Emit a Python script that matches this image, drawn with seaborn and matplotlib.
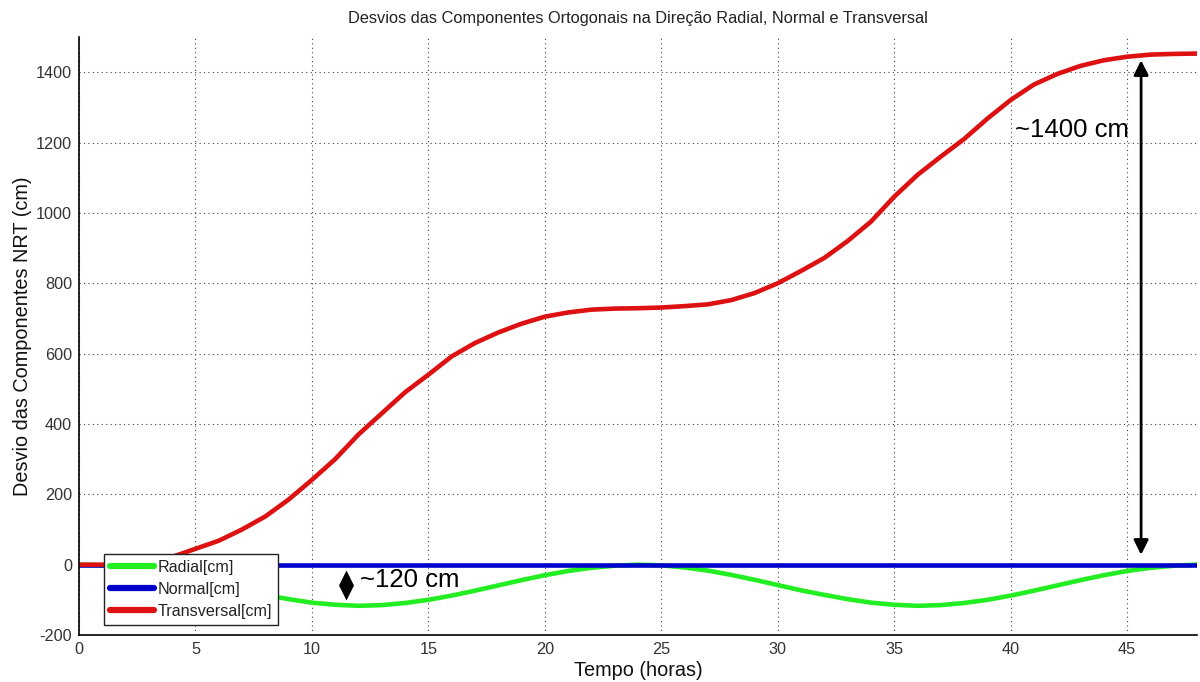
import numpy as np
import pandas as pd
import matplotlib
matplotlib.use("Agg")
import matplotlib.pyplot as plt
import seaborn as sns

# Time samples (hours)
tempo = list(range(0, 49))

# Deviation of each orthogonal component (cm)
radial = [0, -2, -8, -17, -29, -43, -58, -73, -86, -98, -108, -114, -117,
          -115, -109, -100, -88, -74, -59, -44, -30, -18, -9, -3, 0,
          -2, -8, -17, -29, -43, -58, -73, -86, -98, -108, -114, -117,
          -115, -109, -100, -88, -74, -59, -44, -30, -18, -9, -3, 0]
normal = [0] * 49
transversal = [0, 0, 2, 8, 22, 45, 68, 100, 137, 185, 241, 300, 370,
               430, 490, 540, 592, 630, 660, 685, 705, 717, 725, 728, 729,
               731, 735, 740, 752, 772, 800, 835, 872, 920, 975, 1046, 1108,
               1160, 1210, 1268, 1321, 1365, 1395, 1418, 1434, 1444, 1450, 1452, 1453]

series_names = ["Radial[cm]", "Normal[cm]", "Transversal[cm]"]
series_colors = ["#22ee22", "#0000cc", "#dd1111"]

# Amplitude annotations
amp_transversal = "~1400 cm"
amp_radial = "~120 cm"

df = pd.concat([
    pd.DataFrame({"Tempo": tempo, "Desvio": vals, "Componente": name})
    for name, vals in zip(series_names, [radial, normal, transversal])
])

sns.set_theme(style="white")
plt.rcParams["font.family"] = ["Liberation Sans", "DejaVu Sans"]
plt.rcParams["axes.unicode_minus"] = False

fig = plt.figure(figsize=(12, 6.82), dpi=100)
ax = fig.add_axes([0.0658, 0.0689, 0.9317, 0.8768])

sns.lineplot(data=df, x="Tempo", y="Desvio", hue="Componente",
             palette=dict(zip(series_names, series_colors)),
             hue_order=series_names, linewidth=3.3, ax=ax, legend=True)

ax.set_xlim(0, 48)
ax.set_ylim(-200, 1500)
ax.set_xticks(np.arange(0, 50, 5))
ax.set_yticks(np.arange(-200, 1500, 200))
ax.grid(True, linestyle=(0, (1, 3)), color="#444444", linewidth=0.8)
ax.tick_params(direction="in", length=7, width=1, labelsize=11.7,
               colors="black", labelcolor="#333333", pad=5)
for s in ["top", "right"]:
    ax.spines[s].set_visible(False)
for s in ["left", "bottom"]:
    ax.spines[s].set_color("black")
    ax.spines[s].set_linewidth(1.2)

ax.set_title("Desvios das Componentes Ortogonais na Direção Radial, Normal e Transversal",
             fontsize=11.8, color="#222222", pad=10)
ax.set_xlabel("Tempo (horas)", fontsize=14.3, color="#111111", labelpad=3)
ax.set_ylabel("Desvio das Componentes NRT (cm)", fontsize=14.3,
              color="#111111", labelpad=3)

leg = ax.legend(loc="lower left", bbox_to_anchor=(0.0224, 0.0167), fontsize=11.6,
                frameon=True, fancybox=False, framealpha=1, edgecolor="#222222",
                handlelength=2.7, handletextpad=0.2, borderpad=0.4,
                labelspacing=0.42, borderaxespad=0)
leg.get_frame().set_linewidth(1.0)
for t in leg.get_texts():
    t.set_color("#222222")
for h in leg.get_lines():
    h.set_linewidth(4.5)

# Double arrow for the transversal amplitude
ax.annotate("", xy=(45.6, 1434), xytext=(45.6, 28),
            arrowprops=dict(arrowstyle="<|-|>", color="black", lw=2,
                            mutation_scale=22, shrinkA=0, shrinkB=0))
ax.text(40.2, 1235, amp_transversal, fontsize=18.5, va="center", ha="left", color="black")

# Diamond marker and label for the radial amplitude
diamond = [(0, 1), (0.5, 0), (0, -1), (-0.5, 0), (0, 1)]
ax.plot([11.46], [-57], marker=diamond, markersize=21.6, color="black",
        markeredgewidth=0, linestyle="none")
ax.text(12.05, -45, amp_radial, fontsize=18.5, va="center", ha="left", color="black")

fig.savefig("out.png", dpi=100)
